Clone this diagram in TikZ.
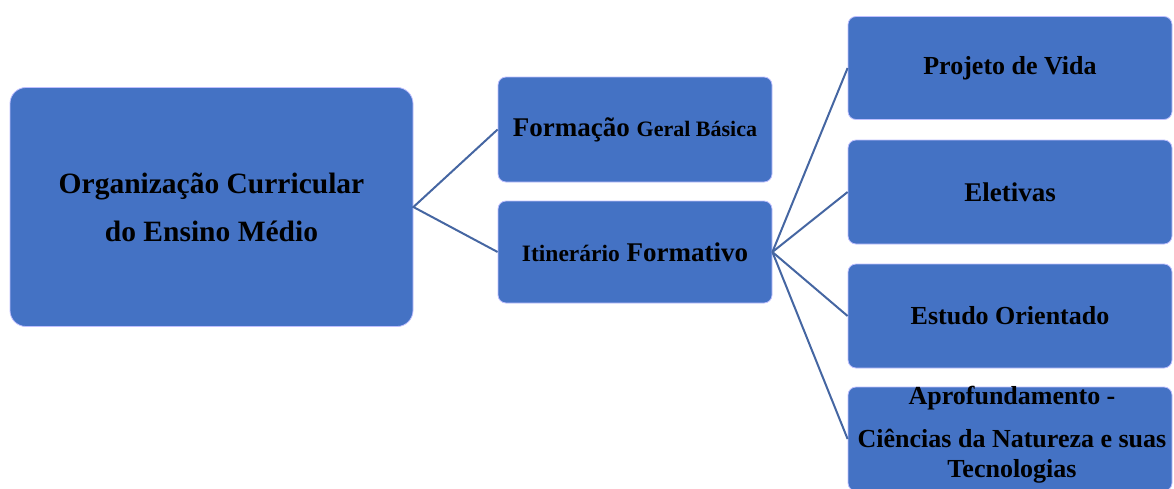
\documentclass[tikz,border=0pt]{standalone}
\usepackage{fontspec}
\setmainfont{Liberation Serif}
\begin{document}
\begin{tikzpicture}[x=1pt,y=-1pt,
  box/.style={draw=white!75!blue, line width=0.8pt, fill=boxblue, rounded corners=#1, inner sep=0pt, font=\bfseries, text=black, align=center},
  box/.default=8pt,
  link/.style={draw=linkblue, line width=2pt}]
\definecolor{boxblue}{HTML}{4472C4}
\definecolor{linkblue}{HTML}{4566A2}
\useasboundingbox (0,0) rectangle (1174,488);
\begin{scope}
\clip (0,0) rectangle (1174,488);
\node[box=16pt, minimum width=403pt, minimum height=239pt, font=\bfseries\fontsize{29.5}{48}\selectfont] (org) at (211.5,207)
  {Organização Curricular\\ do Ensino Médio};
\node[box, minimum width=274pt, minimum height=105pt, font=\bfseries\fontsize{27}{30}\selectfont] (fgb) at (635,129.5)
  {Formação\ {\fontsize{22}{30}\selectfont Geral Básica}};
\node[box, minimum width=274pt, minimum height=102pt, font=\bfseries\fontsize{27}{30}\selectfont] (itf) at (635,252)
  {{\fontsize{23.5}{30}\selectfont Itinerário}\ Formativo};
\node[box, minimum width=324pt, minimum height=103pt, font=\bfseries\fontsize{26}{30}\selectfont] (pv) at (1010,68)
  {Projeto de Vida};
\node[box, minimum width=324pt, minimum height=104pt, font=\bfseries\fontsize{27}{30}\selectfont] (el) at (1010,192)
  {Eletivas};
\node[box, minimum width=324pt, minimum height=104pt, font=\bfseries\fontsize{26}{30}\selectfont] (eo) at (1010,316)
  {Estudo Orientado};
\node[box, minimum width=324pt, minimum height=104pt] (ap) at (1010,439) {};
\node[font=\bfseries\fontsize{26}{30}\selectfont, text=black, align=center, inner sep=0pt, anchor=north] (aptext) at (1012,386)
  {Aprofundamento -\\[13pt]
   Ciências da Natureza e suas\\
   Tecnologias};
\draw[link] (fgb.west) -- (org.east) -- (itf.west);
\draw[link] (pv.west) -- (itf.east);
\draw[link] (el.west) -- (itf.east);
\draw[link] (eo.west) -- (itf.east);
\draw[link] (ap.west) -- (itf.east);
\end{scope}
\end{tikzpicture}
\end{document}
